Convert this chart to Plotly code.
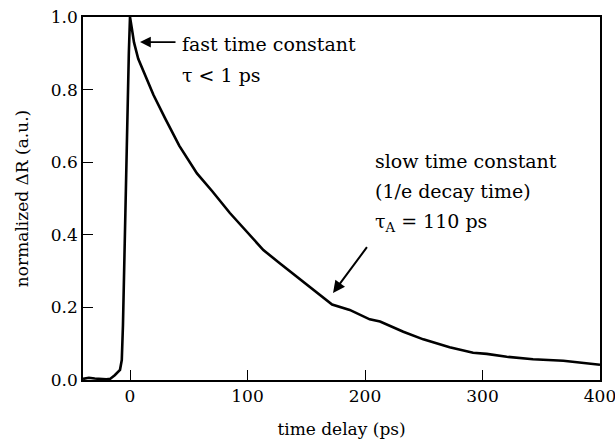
import plotly.graph_objects as go

# data
time_ps = [-40, -35, -30, -25, -20, -17, -13, -8.5, -7, -6, -4.8, -2.8, -1, 0, 1.5, 3.4,
           7, 11, 20, 30, 42, 57, 70, 85, 100, 113.5, 127.7, 150.4, 168.8, 172, 187,
           204, 212.8, 232.6, 249.6, 272, 292, 303.6, 320.6, 343, 368.8, 400]
dR = [0.003, 0.006, 0.004, 0.002, 0.002, 0.003, 0.013, 0.028, 0.055, 0.15, 0.36, 0.63,
      0.9, 1.0, 0.97, 0.93, 0.885, 0.855, 0.785, 0.72, 0.645, 0.569, 0.52, 0.46, 0.405,
      0.358, 0.321, 0.262, 0.216, 0.208, 0.193, 0.167, 0.161, 0.133, 0.112, 0.09, 0.075,
      0.072, 0.064, 0.057, 0.053, 0.042]

x_ticks = [0, 100, 200, 300, 400]
y_ticks = [0.0, 0.2, 0.4, 0.6, 0.8, 1.0]

FONT = "DejaVu Serif"

fig = go.Figure()
fig.add_trace(go.Scatter(x=time_ps, y=dR, mode="lines",
                         line=dict(color="black", width=2.6),
                         showlegend=False, hoverinfo="skip"))

axis_common = dict(showline=True, linecolor="black", linewidth=1.5, mirror=True,
                   ticks="inside", ticklen=10, tickwidth=1.2, tickcolor="black",
                   showgrid=False, zeroline=False, ticklabeloverflow="allow",
                   automargin=False,
                   tickfont=dict(family=FONT, size=17, color="black"))

fig.update_xaxes(range=[-40, 400], tickvals=x_ticks, ticktext=[str(v) for v in x_ticks],
                 title=dict(text="time delay (ps)", font=dict(family=FONT, size=17, color="black"),
                            standoff=18),
                 **axis_common)
fig.update_yaxes(range=[0, 1.0], tickvals=y_ticks, ticktext=[f"{v:.1f}" for v in y_ticks],
                 title=dict(text="normalized \u0394R (a.u.)", font=dict(family=FONT, size=17, color="black"),
                            standoff=18),
                 **axis_common)

# arrows
fig.add_annotation(x=8.5, y=0.931, ax=40, ay=0.931, xref="x", yref="y", axref="x", ayref="y",
                   text="", showarrow=True, arrowhead=2, arrowsize=1.2, arrowwidth=1.8,
                   arrowcolor="black")
fig.add_annotation(x=172.8, y=0.24, ax=202.6, ay=0.37, xref="x", yref="y", axref="x", ayref="y",
                   text="", showarrow=True, arrowhead=2, arrowsize=1.2, arrowwidth=2,
                   arrowcolor="black")

# text labels
fig.add_annotation(x=42.5, y=0.925, xref="x", yref="y", xanchor="left", yanchor="middle",
                   text="fast time constant", showarrow=False,
                   font=dict(family=FONT, size=19, color="black"))
fig.add_annotation(x=42.5, y=0.84, xref="x", yref="y", xanchor="left", yanchor="middle",
                   text="\u03c4 < 1 ps", showarrow=False,
                   font=dict(family=FONT, size=19, color="black"))
fig.add_annotation(x=207, y=0.603, xref="x", yref="y", xanchor="left", yanchor="middle",
                   text="slow time constant", showarrow=False,
                   font=dict(family=FONT, size=19, color="black"))
fig.add_annotation(x=207, y=0.52, xref="x", yref="y", xanchor="left", yanchor="middle",
                   text="(1/e decay time)", showarrow=False,
                   font=dict(family=FONT, size=19, color="black"))
fig.add_annotation(x=207, y=0.435, xref="x", yref="y", xanchor="left", yanchor="middle",
                   text="\u03c4<sub>A</sub> = 110 ps", showarrow=False,
                   font=dict(family=FONT, size=19, color="black"))

fig.update_layout(width=615, height=444,
                  margin=dict(l=83, r=15, t=17, b=64),
                  paper_bgcolor="white", plot_bgcolor="white",
                  font=dict(family=FONT, color="black"))

fig.write_html("out.html")
